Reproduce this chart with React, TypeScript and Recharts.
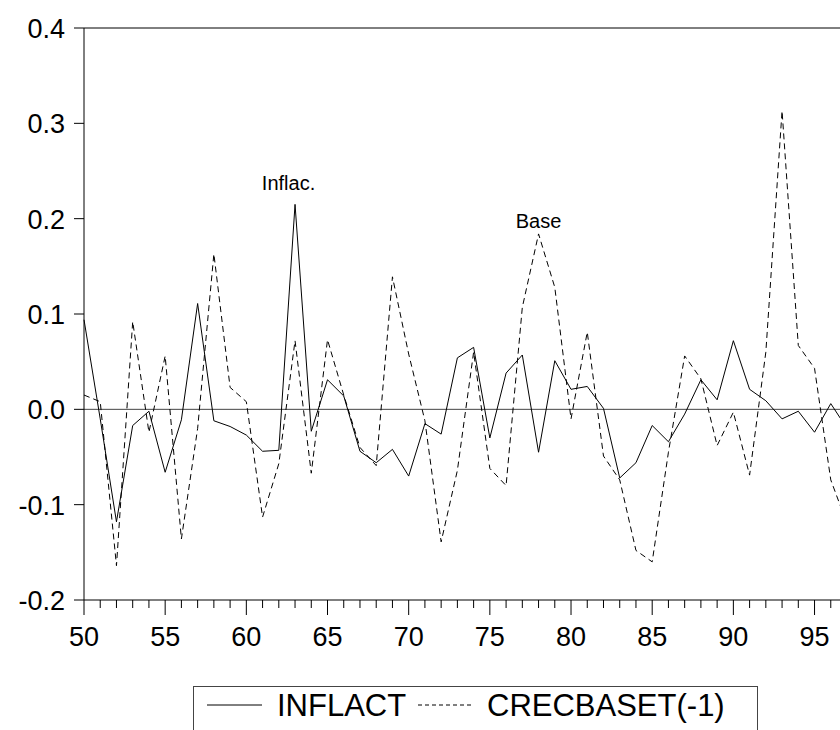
import { LineChart, Line, XAxis, YAxis, ReferenceLine, ReferenceDot } from 'recharts';

// Years on the x axis (19xx, last two digits)
const YEARS = [
  50, 51, 52, 53, 54, 55, 56, 57, 58, 59,
  60, 61, 62, 63, 64, 65, 66, 67, 68, 69,
  70, 71, 72, 73, 74, 75, 76, 77, 78, 79,
  80, 81, 82, 83, 84, 85, 86, 87, 88, 89,
  90, 91, 92, 93, 94, 95, 96, 97,
];

const INFLACT = [
  0.094, -0.01, -0.118, -0.017, -0.002, -0.066, -0.011, 0.111, -0.012, -0.018,
  -0.027, -0.044, -0.043, 0.215, -0.023, 0.031, 0.014, -0.044, -0.056, -0.042,
  -0.07, -0.015, -0.026, 0.054, 0.065, -0.03, 0.038, 0.057, -0.045, 0.051,
  0.021, 0.024, 0.001, -0.072, -0.056, -0.017, -0.034, -0.005, 0.031, 0.01,
  0.072, 0.021, 0.009, -0.01, -0.002, -0.024, 0.006, -0.02,
];

const CRECBASET_LAG = [
  0.015, 0.008, -0.164, 0.092, -0.024, 0.056, -0.136, -0.02, 0.163, 0.023,
  0.008, -0.113, -0.057, 0.072, -0.067, 0.073, 0.015, -0.04, -0.059, 0.139,
  0.058, -0.012, -0.139, -0.064, 0.06, -0.062, -0.08, 0.107, 0.184, 0.128,
  -0.01, 0.081, -0.049, -0.074, -0.148, -0.16, -0.045, 0.056, 0.032, -0.038,
  -0.003, -0.069, 0.06, 0.313, 0.067, 0.043, -0.074, -0.12,
];

const Y_TICKS = [-0.2, -0.1, 0.0, 0.1, 0.2, 0.3, 0.4];

const data = YEARS.map((yr, i) => ({ yr, inflact: INFLACT[i], base: CRECBASET_LAG[i] }));

const FONT = '"Liberation Sans", Arial, sans-serif';

const XTick = (props: any) => {
  const { x, y, payload } = props;
  const major = payload.value % 5 === 0;
  return (
    <g>
      <line x1={x} y1={y} x2={x} y2={y + (major ? 15 : 8)} stroke="#000" strokeWidth={1} />
      {major && (
        <text x={x} y={y + 46} textAnchor="middle" fontSize={27} fontFamily={FONT} fill="#000">
          {payload.value}
        </text>
      )}
    </g>
  );
};

const YTick = (props: any) => {
  const { x, y, payload } = props;
  return (
    <g>
      <line x1={x - 10} y1={y} x2={x} y2={y} stroke="#000" strokeWidth={1} />
      <text x={x - 19} y={y + 10} textAnchor="end" fontSize={27} fontFamily={FONT} fill="#000">
        {payload.value.toFixed(1)}
      </text>
    </g>
  );
};

export default function App() {
  return (
    <div style={{ position: 'absolute', left: 0, top: 0, width: 840, height: 730, overflow: 'hidden', background: '#fff' }}>
      <LineChart width={880} height={680} data={data} margin={{ top: 28, right: 33, left: 0, bottom: 0 }}>
        <XAxis
          dataKey="yr"
          type="number"
          domain={[50, 97]}
          ticks={YEARS}
          interval={0}
          height={80}
          tickSize={0}
          tickMargin={0}
          tickLine={false}
          tick={<XTick />}
          axisLine={{ stroke: '#000', strokeWidth: 1 }}
        />
        <YAxis
          type="number"
          domain={[-0.2, 0.4]}
          ticks={Y_TICKS}
          interval={0}
          width={84}
          tickSize={0}
          tickMargin={0}
          tickLine={false}
          tick={<YTick />}
          axisLine={{ stroke: '#000', strokeWidth: 1 }}
          allowDataOverflow
        />
        <ReferenceLine y={0.4} stroke="#000" strokeWidth={1} />
        <ReferenceLine y={0} stroke="#444" strokeWidth={1} />
        <Line
          dataKey="inflact"
          stroke="#000"
          strokeWidth={1}
          dot={false}
          type="linear"
          isAnimationActive={false}
        />
        <Line
          dataKey="base"
          stroke="#000"
          strokeWidth={1}
          strokeDasharray="6 4"
          dot={false}
          type="linear"
          isAnimationActive={false}
        />
        <ReferenceDot
          x={62.6}
          y={0.237}
          r={0}
          fill="none"
          stroke="none"
          label={{ value: 'Inflac.', position: 'center', fontSize: 20, fontFamily: FONT, fill: '#000' }}
        />
        <ReferenceDot
          x={78}
          y={0.198}
          r={0}
          fill="none"
          stroke="none"
          label={{ value: 'Base', position: 'center', fontSize: 20, fontFamily: FONT, fill: '#000' }}
        />
      </LineChart>
      {/* legend box, bottom edge runs off the page */}
      <svg style={{ position: 'absolute', left: 193, top: 686 }} width={566} height={60}>
        <rect x={0.5} y={0.5} width={564} height={80} fill="none" stroke="#444" strokeWidth={1} />
        <line x1={14} y1={19} x2={69} y2={19} stroke="#000" strokeWidth={1} />
        <text x={84} y={30} fontSize={31} fontFamily={FONT} fill="#000">INFLACT</text>
        <line x1={225} y1={19} x2={280} y2={19} stroke="#000" strokeWidth={1} strokeDasharray="4 3" />
        <text x={294} y={30} fontSize={31} fontFamily={FONT} fill="#000">CRECBASET(-1)</text>
      </svg>
    </div>
  );
}
